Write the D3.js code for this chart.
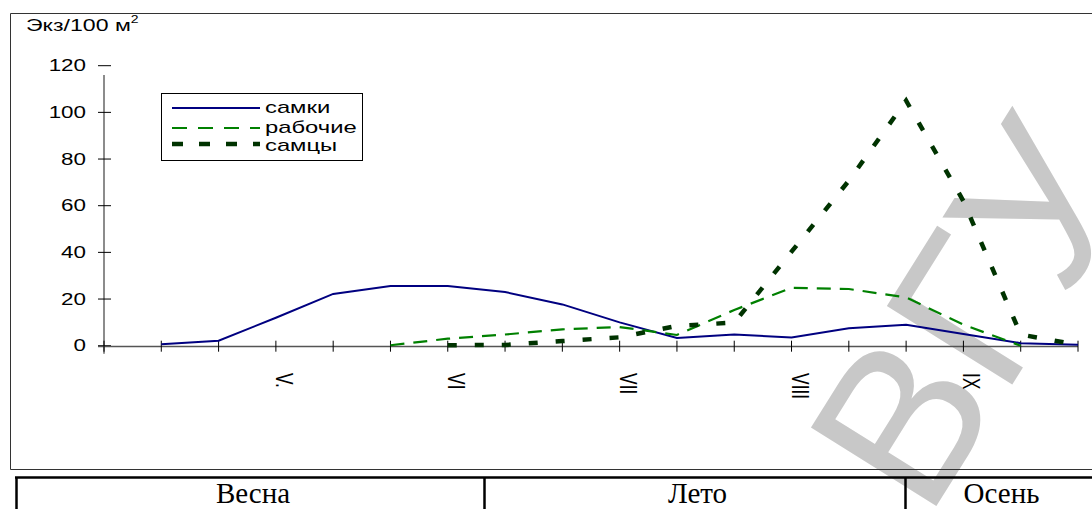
<!DOCTYPE html>
<html>
<head>
<meta charset="utf-8">
<script src="https://cdn.jsdelivr.net/npm/d3@7"></script>
<style>
  body { margin: 0; background: #fff; }
  svg { display: block; }
</style>
</head>
<body>
<div id="chart"></div>
<script>
// ten-day periods, index 0..17; month labels sit on every third tick
const periods = d3.range(18);
const monthTicks = [3, 6, 9, 12, 15];
const monthLabels = ["V.", "VI", "VII", "VIII", "IX"];
const yTicks = [0, 20, 40, 60, 80, 100, 120];

const samki    = [null, 0.6, 2.1, 12, 22.2, 25.6, 25.6, 23, 17.7, 10, 3.3, 4.8, 3.5, 7.5, 9, 5, 1.1, 0.4];
const rabochie = [null, null, null, null, null, 0.2, 3, 4.8, 7, 8, 4.6, 15.3, 24.8, 24.3, 20.7, 9, 0, null];
const samtsy   = [null, null, null, null, null, null, 0.2, 0.3, 2, 3.6, 8.5, 9.9, 40.3, 70.7, 105, 62, 4.8, 0.3];

const seriesNames = ["самки", "рабочие", "самцы"];
const seasons = ["Весна", "Лето", "Осень"];
const seasonBounds = [16, 484, 905, 1092];

const width = 1092, height = 509;
const sx = 1.4; // the chart picture is stretched sideways

const svg = d3.select("#chart").append("svg")
  .attr("width", width)
  .attr("height", height)
  .style("background", "#fff");

// watermark, one letter per text so only the last one runs off the edge
const wm = svg.append("g")
  .attr("transform", "translate(927,521) rotate(-58)")
  .style("font-family", "Liberation Sans, Arial, sans-serif")
  .style("font-size", "215px")
  .style("fill", "#c8c8c8");
let wmX = 0;
["В", "Г", "У"].forEach(function (ch) {
  let t = wm.append("text").attr("x", wmX).text(ch);
  wmX += t.node().getComputedTextLength();
});

const x = d3.scaleLinear().domain([0, 17]).range([104, 1078]);
const y = d3.scaleLinear().domain([0, 120]).range([345.7, 65.7]);

// chart frame
svg.append("path")
  .attr("d", "M1092,13.5H10.5V469.5H1092")
  .attr("fill", "none")
  .attr("stroke", "#333")
  .attr("stroke-width", 1);

// y axis
svg.append("line")
  .attr("x1", x(0)).attr("x2", x(0))
  .attr("y1", y(116)).attr("y2", y(0) + 8)
  .attr("stroke", "#666").attr("stroke-width", 1.5);

svg.selectAll("line.ytick").data(yTicks).join("line")
  .attr("class", "ytick")
  .attr("x1", x(0) - 6).attr("x2", x(0) + 7)
  .attr("y1", d => y(d)).attr("y2", d => y(d))
  .attr("stroke", "#000");

svg.selectAll("text.ylab").data(yTicks).join("text")
  .attr("class", "ylab")
  .attr("transform", d => `translate(86,${y(d)}) scale(${sx},1)`)
  .attr("dy", "0.36em")
  .attr("text-anchor", "end")
  .style("font-family", "Liberation Sans, Arial, sans-serif")
  .style("font-size", "16px")
  .text(d => d);

// x axis
svg.append("line")
  .attr("x1", x(0) - 6).attr("x2", x(17))
  .attr("y1", y(0) + 0.8).attr("y2", y(0) + 0.8)
  .attr("stroke", "#555").attr("stroke-width", 1.5);

svg.selectAll("line.xtick").data(periods).join("line")
  .attr("class", "xtick")
  .attr("x1", d => x(d)).attr("x2", d => x(d))
  .attr("y1", y(0) - 5).attr("y2", y(0) + 6)
  .attr("stroke", "#000");

svg.selectAll("text.xlab").data(monthTicks).join("text")
  .attr("class", "xlab")
  .attr("transform", d => `translate(${x(d)},373) scale(${sx},1) rotate(90)`)
  .style("font-family", "Liberation Sans, Arial, sans-serif")
  .style("font-size", "17.5px")
  .text((d, i) => monthLabels[i]);

// axis title
const title = svg.append("text")
  .attr("transform", `translate(26,30.5) scale(${sx},1)`)
  .style("font-family", "Liberation Sans, Arial, sans-serif")
  .style("font-size", "16.5px");
title.append("tspan").text("Экз/100 м");
title.append("tspan").attr("dy", -8).style("font-size", "10px").text("2");

// series
const styles = [
  { data: samki, color: "#000080", width: 2, dash: null },
  { data: rabochie, color: "#008000", width: 2.2, dash: "14,9" },
  { data: samtsy, color: "#003300", width: 4.5, dash: "9,18" }
];

const line = d3.line()
  .defined(d => d.v !== null)
  .x(d => x(d.i))
  .y(d => y(d.v));

styles.forEach(function (s) {
  svg.append("path")
    .datum(s.data.map((v, i) => ({ i: i, v: v })))
    .attr("d", line)
    .attr("fill", "none")
    .attr("stroke", s.color)
    .attr("stroke-width", s.width)
    .attr("stroke-dasharray", s.dash);
});

// legend
const legend = svg.append("g");
legend.append("rect")
  .attr("x", 161.5).attr("y", 93.5)
  .attr("width", 201).attr("height", 67)
  .attr("fill", "#fff")
  .attr("stroke", "#000");

const legendY = [108, 128, 144];
const legendBase = [113, 133, 151];
styles.forEach(function (s, i) {
  legend.append("line")
    .attr("x1", 172).attr("x2", 260)
    .attr("y1", legendY[i]).attr("y2", legendY[i])
    .attr("stroke", s.color)
    .attr("stroke-width", s.width)
    .attr("stroke-dasharray", i === 1 ? "15,11" : i === 2 ? "11,16" : null);
  legend.append("text")
    .attr("transform", `translate(265,${legendBase[i]}) scale(${sx},1)`)
    .style("font-family", "Liberation Sans, Arial, sans-serif")
    .style("font-size", "17px")
    .text(seriesNames[i]);
});

// season table under the chart
const table = svg.append("g");
table.append("line")
  .attr("x1", 15).attr("x2", width)
  .attr("y1", 477.5).attr("y2", 477.5)
  .attr("stroke", "#000").attr("stroke-width", 2.5);
table.selectAll("line.sep").data(seasonBounds.slice(0, 3)).join("line")
  .attr("class", "sep")
  .attr("x1", d => d + 0.5).attr("x2", d => d + 0.5)
  .attr("y1", 477).attr("y2", height)
  .attr("stroke", "#000").attr("stroke-width", 2.5);
table.selectAll("text").data(seasons).join("text")
  .attr("x", (d, i) => (seasonBounds[i] + seasonBounds[i + 1]) / 2 + 3)
  .attr("y", 503)
  .attr("text-anchor", "middle")
  .style("font-family", "Liberation Serif, Times New Roman, serif")
  .style("font-size", "29px")
  .text(d => d);
</script>
</body>
</html>
